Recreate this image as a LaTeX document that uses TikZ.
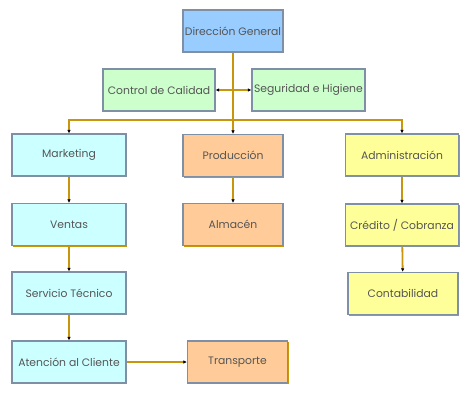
\documentclass[tikz,border=0pt]{standalone}
\usepackage{fontspec}
\setmainfont{Poppins}
\usetikzlibrary{arrows.meta,shadows}

\definecolor{linea}{HTML}{C8960C}
\definecolor{borde}{HTML}{7F8FA6}
\definecolor{texto}{HTML}{555555}
\definecolor{azul}{HTML}{99CCFF}
\definecolor{verde}{HTML}{CCFFCC}
\definecolor{celeste}{HTML}{CCFFFF}
\definecolor{naranja}{HTML}{FFCC99}
\definecolor{amarillo}{HTML}{FFFF99}

\begin{document}
\begin{tikzpicture}[x=1pt,y=-1pt,
    caja/.style={draw=borde,line width=1.3pt,text=texto,font=\fontsize{10.8}{12}\selectfont,
        minimum width=112pt,minimum height=42pt,inner sep=0pt,
        drop shadow={shadow xshift=1.3pt,shadow yshift=-1.3pt,fill=linea,opacity=1}},
    punta/.tip={Latex[length=3.5pt,width=3.5pt,color=black]},
    flecha/.style={draw=linea,line width=1.8pt,-punta}]
    \useasboundingbox (0,0) rectangle (470,400);
    \node[caja,fill=azul,minimum width=100pt] (dg) at (233,31){Dirección General};
    \node[caja,fill=verde] (cal) at (159,90){Control de Calidad};
    \node[caja,fill=verde,minimum width=113pt] (seg) at (308.5,90){Seguridad e Higiene};
    \node[caja,fill=celeste,minimum width=114pt] (mkt) at (69,155){Marketing};
    \node[caja,fill=naranja,minimum width=100pt] (prod) at (233,155.5){Producción};
    \node[caja,fill=amarillo,minimum width=113pt] (adm) at (402,155){Administración};
    \node[caja,fill=celeste,minimum width=114pt] (ven) at (69,224.5){Ventas};
    \node[caja,fill=naranja,minimum width=100pt] (alm) at (233,224.5){Almacén};
    \node[caja,fill=amarillo,minimum width=113pt] (cred) at (402,225){Crédito / Cobranza};
    \node[caja,fill=celeste,minimum width=114pt] (serv) at (69,293){Servicio Técnico};
    \node[caja,fill=amarillo,minimum width=110pt] (cont) at (403,293.5){Contabilidad};
    \node[caja,fill=celeste,minimum width=114pt] (aten) at (69,362){Atención al Cliente};
    \node[caja,fill=naranja,minimum width=100pt] (trans) at (237.5,362){Transporte};
    \coordinate (barra) at (233,120);
    \draw[flecha] (dg) -- (prod);
    \draw[flecha,punta-punta] (cal) -- (seg);
    \draw[flecha] (barra) -| (mkt);
    \draw[flecha] (barra) -| (adm);
    \draw[flecha] (mkt) -- (ven);
    \draw[flecha] (ven) -- (serv);
    \draw[flecha] (serv) -- (aten);
    \draw[flecha] (aten) -- (trans);
    \draw[flecha] (prod) -- (alm);
    \draw[flecha] (adm) -- (cred);
    \draw[flecha] (cred) -- (cont);
\end{tikzpicture}
\end{document}
